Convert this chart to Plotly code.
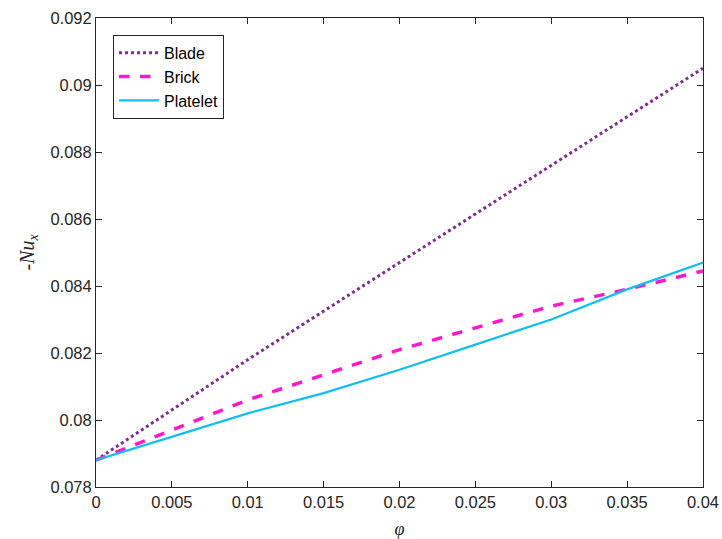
import plotly.graph_objects as go

# Volume fraction of nanoparticles
phi = [0, 0.005, 0.01, 0.015, 0.02, 0.025, 0.03, 0.035, 0.04]

# Local Nusselt number (-Nu_x) for each particle shape
nu_blade = [0.0788, 0.0803, 0.0818, 0.08325, 0.0847, 0.08615, 0.0876, 0.08905, 0.0905]
nu_brick = [0.0788, 0.0797, 0.0806, 0.08135, 0.0821, 0.08275, 0.0834, 0.0839, 0.08445]
nu_platelet = [0.0788, 0.0795, 0.0802, 0.0808, 0.0815, 0.08225, 0.0830, 0.0839, 0.0847]

x_ticks = [0, 0.005, 0.01, 0.015, 0.02, 0.025, 0.03, 0.035, 0.04]
x_tick_text = ["0", "0.005", "0.01", "0.015", "0.02", "0.025", "0.03", "0.035", "0.04"]
y_ticks = [0.078, 0.080, 0.082, 0.084, 0.086, 0.088, 0.090, 0.092]
y_tick_text = ["0.078", "0.08", "0.082", "0.084", "0.086", "0.088", "0.09", "0.092"]

fig = go.Figure()
fig.add_trace(go.Scatter(x=phi, y=nu_blade, mode="lines", name="Blade",
                         line=dict(color="#7E2F8E", width=3, dash="dot")))
fig.add_trace(go.Scatter(x=phi, y=nu_brick, mode="lines", name="Brick",
                         line=dict(color="#FF19C8", width=3.5, dash="dash")))
fig.add_trace(go.Scatter(x=phi, y=nu_platelet, mode="lines", name="Platelet",
                         line=dict(color="#12BEF0", width=2.3)))

axis_common = dict(
    showgrid=False, zeroline=False, showline=True, mirror="allticks",
    linecolor="#262626", linewidth=1, ticks="inside", ticklen=6,
    tickcolor="#262626", automargin=False,
    tickfont=dict(family="Liberation Sans, Arial", size=16.5, color="#262626"),
)

fig.update_layout(
    width=722, height=539,
    margin=dict(l=96, r=19, t=18, b=52),
    paper_bgcolor="white", plot_bgcolor="white",
    font=dict(family="Liberation Sans, Arial", color="#262626"),
    xaxis=dict(range=[0, 0.04], tickvals=x_ticks, ticktext=x_tick_text,
               ticklabeloverflow="allow",
               title=dict(text="<i>φ</i>", font=dict(family="Liberation Serif", size=18), standoff=12),
               **axis_common),
    yaxis=dict(range=[0.078, 0.092], tickvals=y_ticks, ticktext=y_tick_text,
               title=dict(text="-<i>Nu</i><sub><i>x</i></sub>",
                          font=dict(family="Liberation Serif", size=20), standoff=10),
               **axis_common),
    legend=dict(x=0.028, y=0.964, xanchor="left", yanchor="top",
                bgcolor="white", bordercolor="#262626", borderwidth=1,
                font=dict(family="Liberation Sans, Arial", size=16, color="#000000"),
                tracegroupgap=0, itemwidth=40),
    showlegend=True,
)

fig.write_html("out.html")
